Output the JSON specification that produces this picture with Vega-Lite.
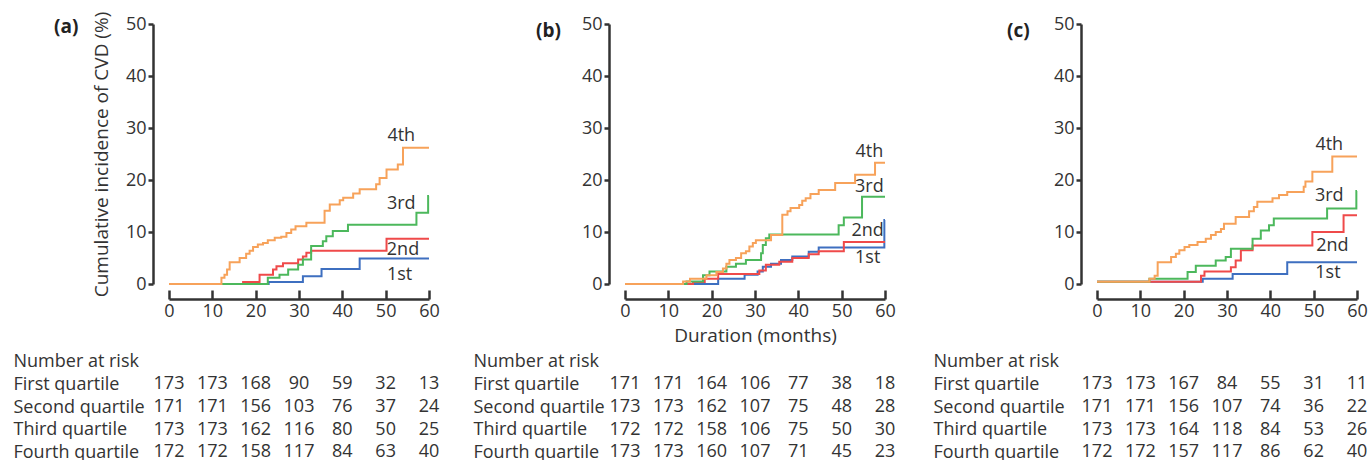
{
  "$schema": "https://vega.github.io/schema/vega-lite/v6.json",
  "padding": {"left": 13, "top": 11, "right": 0, "bottom": 0},
  "config": {
    "view": {"stroke": null},
    "font": "Open Sans",
    "axis": {"grid": false, "domainColor": "#333", "tickColor": "#333", "domainWidth": 2.5, "tickWidth": 2.5, "labelFontSize": 18, "labelColor": "#333", "titleFontSize": 19, "titleFontWeight": "normal", "titleColor": "#333", "labelFont": "Open Sans", "titleFont": "Open Sans"},
    "title": {"fontSize": 19, "fontWeight": "bold", "color": "#222", "anchor": "start", "frame": "group", "offset": 0, "font": "Open Sans"}
  },
  "datasets": {
    "curves": [
      {"p":"a","s":"1st","t":0,"v":0},{"p":"a","s":"1st","t":23,"v":0.4},{"p":"a","s":"1st","t":30.9,"v":1.5},{"p":"a","s":"1st","t":35.2,"v":2.9},{"p":"a","s":"1st","t":44,"v":4.9},{"p":"a","s":"1st","t":60,"v":4.9},
      {"p":"a","s":"2nd","t":0,"v":0},{"p":"a","s":"2nd","t":17.1,"v":0.4},{"p":"a","s":"2nd","t":20.9,"v":1.8},{"p":"a","s":"2nd","t":24,"v":2.8},{"p":"a","s":"2nd","t":24.8,"v":3.4},{"p":"a","s":"2nd","t":26.3,"v":4.0},{"p":"a","s":"2nd","t":29.8,"v":4.7},{"p":"a","s":"2nd","t":30.9,"v":5.3},{"p":"a","s":"2nd","t":31.7,"v":6.0},{"p":"a","s":"2nd","t":32.8,"v":6.4},{"p":"a","s":"2nd","t":50.2,"v":8.7},{"p":"a","s":"2nd","t":60,"v":8.7},
      {"p":"a","s":"3rd","t":0,"v":0},{"p":"a","s":"3rd","t":22.8,"v":1.2},{"p":"a","s":"3rd","t":25.5,"v":1.8},{"p":"a","s":"3rd","t":27.5,"v":2.8},{"p":"a","s":"3rd","t":29.8,"v":3.7},{"p":"a","s":"3rd","t":30.9,"v":4.7},{"p":"a","s":"3rd","t":32.8,"v":7.3},{"p":"a","s":"3rd","t":35.5,"v":8.2},{"p":"a","s":"3rd","t":36.3,"v":9.2},{"p":"a","s":"3rd","t":37.8,"v":10.2},{"p":"a","s":"3rd","t":41.3,"v":11.4},{"p":"a","s":"3rd","t":57.1,"v":13.7},{"p":"a","s":"3rd","t":59.8,"v":16.9},{"p":"a","s":"3rd","t":60,"v":16.9},
      {"p":"a","s":"4th","t":0,"v":0},{"p":"a","s":"4th","t":12.1,"v":1.2},{"p":"a","s":"4th","t":12.8,"v":1.8},{"p":"a","s":"4th","t":13.4,"v":2.8},{"p":"a","s":"4th","t":14.0,"v":4.2},{"p":"a","s":"4th","t":16.3,"v":5.0},{"p":"a","s":"4th","t":17.8,"v":5.8},{"p":"a","s":"4th","t":18.6,"v":6.4},{"p":"a","s":"4th","t":19.4,"v":7.1},{"p":"a","s":"4th","t":20.5,"v":7.6},{"p":"a","s":"4th","t":21.7,"v":7.9},{"p":"a","s":"4th","t":22.8,"v":8.4},{"p":"a","s":"4th","t":24.4,"v":8.9},{"p":"a","s":"4th","t":25.9,"v":9.1},{"p":"a","s":"4th","t":27.1,"v":9.8},{"p":"a","s":"4th","t":28.2,"v":10.5},{"p":"a","s":"4th","t":29.2,"v":11.1},{"p":"a","s":"4th","t":31.7,"v":11.8},{"p":"a","s":"4th","t":35.9,"v":14.1},{"p":"a","s":"4th","t":37.1,"v":15.3},{"p":"a","s":"4th","t":39.4,"v":16.1},{"p":"a","s":"4th","t":40.2,"v":16.6},{"p":"a","s":"4th","t":42.5,"v":17.4},{"p":"a","s":"4th","t":44.0,"v":18.2},{"p":"a","s":"4th","t":47.8,"v":19.2},{"p":"a","s":"4th","t":48.6,"v":20.4},{"p":"a","s":"4th","t":50.2,"v":22.0},{"p":"a","s":"4th","t":52.8,"v":23.0},{"p":"a","s":"4th","t":54.0,"v":26.2},{"p":"a","s":"4th","t":60,"v":26.2},
      {"p":"b","s":"1st","t":0,"v":0},{"p":"b","s":"1st","t":21.5,"v":1.0},{"p":"b","s":"1st","t":27.6,"v":1.8},{"p":"b","s":"1st","t":30.6,"v":2.4},{"p":"b","s":"1st","t":31.8,"v":3.3},{"p":"b","s":"1st","t":33.7,"v":3.9},{"p":"b","s":"1st","t":36.0,"v":4.6},{"p":"b","s":"1st","t":38.6,"v":5.3},{"p":"b","s":"1st","t":42.4,"v":6.2},{"p":"b","s":"1st","t":44.7,"v":7.0},{"p":"b","s":"1st","t":59.85,"v":12.3},{"p":"b","s":"1st","t":60,"v":12.3},
      {"p":"b","s":"2nd","t":0,"v":0},{"p":"b","s":"2nd","t":15.7,"v":0.4},{"p":"b","s":"2nd","t":18.4,"v":1.0},{"p":"b","s":"2nd","t":21.5,"v":1.9},{"p":"b","s":"2nd","t":31.0,"v":2.6},{"p":"b","s":"2nd","t":32.5,"v":3.7},{"p":"b","s":"2nd","t":35.6,"v":4.3},{"p":"b","s":"2nd","t":38.6,"v":5.0},{"p":"b","s":"2nd","t":42.4,"v":5.7},{"p":"b","s":"2nd","t":44.7,"v":6.3},{"p":"b","s":"2nd","t":50.5,"v":8.1},{"p":"b","s":"2nd","t":60,"v":8.1},
      {"p":"b","s":"3rd","t":0,"v":0},{"p":"b","s":"3rd","t":14.2,"v":0.5},{"p":"b","s":"3rd","t":18.0,"v":1.7},{"p":"b","s":"3rd","t":19.5,"v":2.4},{"p":"b","s":"3rd","t":23.4,"v":3.3},{"p":"b","s":"3rd","t":25.6,"v":3.9},{"p":"b","s":"3rd","t":27.9,"v":4.6},{"p":"b","s":"3rd","t":31.4,"v":5.9},{"p":"b","s":"3rd","t":31.8,"v":7.5},{"p":"b","s":"3rd","t":32.5,"v":8.8},{"p":"b","s":"3rd","t":33.3,"v":9.5},{"p":"b","s":"3rd","t":49.3,"v":11.3},{"p":"b","s":"3rd","t":50.5,"v":12.8},{"p":"b","s":"3rd","t":54.7,"v":16.8},{"p":"b","s":"3rd","t":60,"v":16.8},
      {"p":"b","s":"4th","t":0,"v":0},{"p":"b","s":"4th","t":13.4,"v":0.5},{"p":"b","s":"4th","t":15.0,"v":1.0},{"p":"b","s":"4th","t":18.8,"v":1.7},{"p":"b","s":"4th","t":21.1,"v":2.3},{"p":"b","s":"4th","t":22.6,"v":3.0},{"p":"b","s":"4th","t":23.4,"v":3.9},{"p":"b","s":"4th","t":24.1,"v":4.6},{"p":"b","s":"4th","t":25.6,"v":5.0},{"p":"b","s":"4th","t":26.8,"v":5.9},{"p":"b","s":"4th","t":27.9,"v":6.3},{"p":"b","s":"4th","t":28.7,"v":7.2},{"p":"b","s":"4th","t":29.5,"v":7.9},{"p":"b","s":"4th","t":30.2,"v":8.4},{"p":"b","s":"4th","t":33.7,"v":9.4},{"p":"b","s":"4th","t":36.3,"v":13.3},{"p":"b","s":"4th","t":37.5,"v":14.0},{"p":"b","s":"4th","t":38.2,"v":14.6},{"p":"b","s":"4th","t":40.2,"v":15.2},{"p":"b","s":"4th","t":40.9,"v":16.0},{"p":"b","s":"4th","t":41.7,"v":16.5},{"p":"b","s":"4th","t":42.8,"v":17.3},{"p":"b","s":"4th","t":44.7,"v":18.1},{"p":"b","s":"4th","t":48.5,"v":19.4},{"p":"b","s":"4th","t":53.1,"v":21.0},{"p":"b","s":"4th","t":57.7,"v":23.3},{"p":"b","s":"4th","t":60,"v":23.3},
      {"p":"c","s":"1st","t":0,"v":0.45},{"p":"c","s":"1st","t":24.4,"v":1.0},{"p":"c","s":"1st","t":31.3,"v":1.9},{"p":"c","s":"1st","t":43.9,"v":4.2},{"p":"c","s":"1st","t":60,"v":4.2},
      {"p":"c","s":"2nd","t":0,"v":0.45},{"p":"c","s":"2nd","t":24.0,"v":1.6},{"p":"c","s":"2nd","t":24.8,"v":2.4},{"p":"c","s":"2nd","t":30.9,"v":3.2},{"p":"c","s":"2nd","t":32.0,"v":4.5},{"p":"c","s":"2nd","t":33.2,"v":6.5},{"p":"c","s":"2nd","t":35.9,"v":7.4},{"p":"c","s":"2nd","t":49.7,"v":10.0},{"p":"c","s":"2nd","t":56.9,"v":13.2},{"p":"c","s":"2nd","t":60,"v":13.2},
      {"p":"c","s":"3rd","t":0,"v":0.45},{"p":"c","s":"3rd","t":12.1,"v":1.0},{"p":"c","s":"3rd","t":20.9,"v":2.3},{"p":"c","s":"3rd","t":22.8,"v":3.5},{"p":"c","s":"3rd","t":27.4,"v":4.5},{"p":"c","s":"3rd","t":29.7,"v":5.2},{"p":"c","s":"3rd","t":30.9,"v":6.8},{"p":"c","s":"3rd","t":35.9,"v":8.7},{"p":"c","s":"3rd","t":37.8,"v":10.3},{"p":"c","s":"3rd","t":39.7,"v":11.3},{"p":"c","s":"3rd","t":40.8,"v":12.6},{"p":"c","s":"3rd","t":53.1,"v":14.5},{"p":"c","s":"3rd","t":59.85,"v":17.9},{"p":"c","s":"3rd","t":60,"v":17.9},
      {"p":"c","s":"4th","t":0,"v":0.45},{"p":"c","s":"4th","t":12.1,"v":1.0},{"p":"c","s":"4th","t":13.3,"v":1.6},{"p":"c","s":"4th","t":14.0,"v":4.2},{"p":"c","s":"4th","t":17.1,"v":5.2},{"p":"c","s":"4th","t":18.2,"v":5.8},{"p":"c","s":"4th","t":19.0,"v":6.5},{"p":"c","s":"4th","t":20.2,"v":7.1},{"p":"c","s":"4th","t":21.3,"v":7.5},{"p":"c","s":"4th","t":23.2,"v":8.1},{"p":"c","s":"4th","t":25.1,"v":8.7},{"p":"c","s":"4th","t":26.3,"v":9.4},{"p":"c","s":"4th","t":27.4,"v":10.0},{"p":"c","s":"4th","t":28.6,"v":10.6},{"p":"c","s":"4th","t":29.3,"v":11.6},{"p":"c","s":"4th","t":32.0,"v":12.9},{"p":"c","s":"4th","t":35.1,"v":14.0},{"p":"c","s":"4th","t":36.2,"v":14.8},{"p":"c","s":"4th","t":37.0,"v":15.8},{"p":"c","s":"4th","t":40.5,"v":16.5},{"p":"c","s":"4th","t":42.0,"v":17.1},{"p":"c","s":"4th","t":43.9,"v":17.7},{"p":"c","s":"4th","t":47.7,"v":18.7},{"p":"c","s":"4th","t":48.1,"v":19.7},{"p":"c","s":"4th","t":49.7,"v":21.6},{"p":"c","s":"4th","t":54.3,"v":24.5},{"p":"c","s":"4th","t":60,"v":24.5}
    ],
    "labels": [
      {"p":"a","label":"4th","t":53.6,"v":28.5},{"p":"a","label":"3rd","t":53.6,"v":15.3},{"p":"a","label":"2nd","t":54.0,"v":6.6},{"p":"a","label":"1st","t":53.2,"v":1.8},
      {"p":"b","label":"4th","t":56.4,"v":25.4},{"p":"b","label":"3rd","t":56.4,"v":18.6},{"p":"b","label":"2nd","t":56.0,"v":10.1},{"p":"b","label":"1st","t":56.0,"v":5.0},
      {"p":"c","label":"4th","t":53.6,"v":26.8},{"p":"c","label":"3rd","t":53.6,"v":17.0},{"p":"c","label":"2nd","t":54.3,"v":7.3},{"p":"c","label":"1st","t":53.3,"v":2.1}
    ],
    "risk": [
      {"p":"a","r":"First quartile","t":0,"n":173},{"p":"a","r":"First quartile","t":10,"n":173},{"p":"a","r":"First quartile","t":20,"n":168},{"p":"a","r":"First quartile","t":30,"n":90},{"p":"a","r":"First quartile","t":40,"n":59},{"p":"a","r":"First quartile","t":50,"n":32},{"p":"a","r":"First quartile","t":60,"n":13},
      {"p":"a","r":"Second quartile","t":0,"n":171},{"p":"a","r":"Second quartile","t":10,"n":171},{"p":"a","r":"Second quartile","t":20,"n":156},{"p":"a","r":"Second quartile","t":30,"n":103},{"p":"a","r":"Second quartile","t":40,"n":76},{"p":"a","r":"Second quartile","t":50,"n":37},{"p":"a","r":"Second quartile","t":60,"n":24},
      {"p":"a","r":"Third quartile","t":0,"n":173},{"p":"a","r":"Third quartile","t":10,"n":173},{"p":"a","r":"Third quartile","t":20,"n":162},{"p":"a","r":"Third quartile","t":30,"n":116},{"p":"a","r":"Third quartile","t":40,"n":80},{"p":"a","r":"Third quartile","t":50,"n":50},{"p":"a","r":"Third quartile","t":60,"n":25},
      {"p":"a","r":"Fourth quartile","t":0,"n":172},{"p":"a","r":"Fourth quartile","t":10,"n":172},{"p":"a","r":"Fourth quartile","t":20,"n":158},{"p":"a","r":"Fourth quartile","t":30,"n":117},{"p":"a","r":"Fourth quartile","t":40,"n":84},{"p":"a","r":"Fourth quartile","t":50,"n":63},{"p":"a","r":"Fourth quartile","t":60,"n":40},
      {"p":"b","r":"First quartile","t":0,"n":171},{"p":"b","r":"First quartile","t":10,"n":171},{"p":"b","r":"First quartile","t":20,"n":164},{"p":"b","r":"First quartile","t":30,"n":106},{"p":"b","r":"First quartile","t":40,"n":77},{"p":"b","r":"First quartile","t":50,"n":38},{"p":"b","r":"First quartile","t":60,"n":18},
      {"p":"b","r":"Second quartile","t":0,"n":173},{"p":"b","r":"Second quartile","t":10,"n":173},{"p":"b","r":"Second quartile","t":20,"n":162},{"p":"b","r":"Second quartile","t":30,"n":107},{"p":"b","r":"Second quartile","t":40,"n":75},{"p":"b","r":"Second quartile","t":50,"n":48},{"p":"b","r":"Second quartile","t":60,"n":28},
      {"p":"b","r":"Third quartile","t":0,"n":172},{"p":"b","r":"Third quartile","t":10,"n":172},{"p":"b","r":"Third quartile","t":20,"n":158},{"p":"b","r":"Third quartile","t":30,"n":106},{"p":"b","r":"Third quartile","t":40,"n":75},{"p":"b","r":"Third quartile","t":50,"n":50},{"p":"b","r":"Third quartile","t":60,"n":30},
      {"p":"b","r":"Fourth quartile","t":0,"n":173},{"p":"b","r":"Fourth quartile","t":10,"n":173},{"p":"b","r":"Fourth quartile","t":20,"n":160},{"p":"b","r":"Fourth quartile","t":30,"n":107},{"p":"b","r":"Fourth quartile","t":40,"n":71},{"p":"b","r":"Fourth quartile","t":50,"n":45},{"p":"b","r":"Fourth quartile","t":60,"n":23},
      {"p":"c","r":"First quartile","t":0,"n":173},{"p":"c","r":"First quartile","t":10,"n":173},{"p":"c","r":"First quartile","t":20,"n":167},{"p":"c","r":"First quartile","t":30,"n":84},{"p":"c","r":"First quartile","t":40,"n":55},{"p":"c","r":"First quartile","t":50,"n":31},{"p":"c","r":"First quartile","t":60,"n":11},
      {"p":"c","r":"Second quartile","t":0,"n":171},{"p":"c","r":"Second quartile","t":10,"n":171},{"p":"c","r":"Second quartile","t":20,"n":156},{"p":"c","r":"Second quartile","t":30,"n":107},{"p":"c","r":"Second quartile","t":40,"n":74},{"p":"c","r":"Second quartile","t":50,"n":36},{"p":"c","r":"Second quartile","t":60,"n":22},
      {"p":"c","r":"Third quartile","t":0,"n":173},{"p":"c","r":"Third quartile","t":10,"n":173},{"p":"c","r":"Third quartile","t":20,"n":164},{"p":"c","r":"Third quartile","t":30,"n":118},{"p":"c","r":"Third quartile","t":40,"n":84},{"p":"c","r":"Third quartile","t":50,"n":53},{"p":"c","r":"Third quartile","t":60,"n":26},
      {"p":"c","r":"Fourth quartile","t":0,"n":172},{"p":"c","r":"Fourth quartile","t":10,"n":172},{"p":"c","r":"Fourth quartile","t":20,"n":157},{"p":"c","r":"Fourth quartile","t":30,"n":117},{"p":"c","r":"Fourth quartile","t":40,"n":86},{"p":"c","r":"Fourth quartile","t":50,"n":62},{"p":"c","r":"Fourth quartile","t":60,"n":40}
    ]
  },
  "columns": 3,
  "bounds": "flush",
  "align": "each",
  "spacing": {"column": 196, "row": 71},
  "concat": [
    {
      "width": 260, "height": 260,
      "title": {"text": "(a)", "dx": -115, "dy": 30},
      "layer": [
        {"data": {"name": "curves"}, "transform": [{"filter": "datum.p == 'a'"}],
         "mark": {"type": "line", "interpolate": "step-after", "strokeWidth": 2},
         "encoding": {
           "x": {"field": "t", "type": "quantitative", "scale": {"domain": [0, 60], "nice": false}, "axis": {"values": [0,10,20,30,40,50,60], "offset": 15, "tickSize": -9, "labelPadding": 12, "title": null, "labelFlush": false}},
           "y": {"field": "v", "type": "quantitative", "scale": {"domain": [0, 50], "nice": false}, "axis": {"values": [0,10,20,30,40,50], "offset": 16, "tickSize": 5, "labelPadding": 2, "title": "Cumulative incidence of CVD (%)", "titlePadding": 14}},
           "color": {"field": "s", "type": "nominal", "scale": {"domain": ["1st","2nd","3rd","4th"], "range": ["#3E6FC0","#EF4A4A","#4CB85C","#F7A25A"]}, "legend": null}
         }},
        {"data": {"name": "labels"}, "transform": [{"filter": "datum.p == 'a'"}],
         "mark": {"type": "text", "fontSize": 18, "color": "#333", "align": "center", "baseline": "middle"},
         "encoding": {"x": {"field": "t", "type": "quantitative"}, "y": {"field": "v", "type": "quantitative"}, "text": {"field": "label"}}}
      ]
    },
    {
      "width": 260, "height": 260,
      "title": {"text": "(b)", "dx": -89, "dy": 30},
      "layer": [
        {"data": {"name": "curves"}, "transform": [{"filter": "datum.p == 'b'"}],
         "mark": {"type": "line", "interpolate": "step-after", "strokeWidth": 2},
         "encoding": {
           "x": {"field": "t", "type": "quantitative", "scale": {"domain": [0, 60], "nice": false}, "axis": {"values": [0,10,20,30,40,50,60], "offset": 15, "tickSize": -9, "labelPadding": 12, "title": "Duration (months)", "titlePadding": 6, "labelFlush": false}},
           "y": {"field": "v", "type": "quantitative", "scale": {"domain": [0, 50], "nice": false}, "axis": {"values": [0,10,20,30,40,50], "offset": 16, "tickSize": 5, "labelPadding": 2, "title": null}},
           "color": {"field": "s", "type": "nominal", "scale": {"domain": ["1st","2nd","3rd","4th"], "range": ["#3E6FC0","#EF4A4A","#4CB85C","#F7A25A"]}, "legend": null}
         }},
        {"data": {"name": "labels"}, "transform": [{"filter": "datum.p == 'b'"}],
         "mark": {"type": "text", "fontSize": 18, "color": "#333", "align": "center", "baseline": "middle"},
         "encoding": {"x": {"field": "t", "type": "quantitative"}, "y": {"field": "v", "type": "quantitative"}, "text": {"field": "label"}}}
      ]
    },
    {
      "width": 260, "height": 260,
      "title": {"text": "(c)", "dx": -90, "dy": 30},
      "layer": [
        {"data": {"name": "curves"}, "transform": [{"filter": "datum.p == 'c'"}],
         "mark": {"type": "line", "interpolate": "step-after", "strokeWidth": 2},
         "encoding": {
           "x": {"field": "t", "type": "quantitative", "scale": {"domain": [0, 60], "nice": false}, "axis": {"values": [0,10,20,30,40,50,60], "offset": 15, "tickSize": -9, "labelPadding": 12, "title": null, "labelFlush": false}},
           "y": {"field": "v", "type": "quantitative", "scale": {"domain": [0, 50], "nice": false}, "axis": {"values": [0,10,20,30,40,50], "offset": 16, "tickSize": 5, "labelPadding": 2, "title": null}},
           "color": {"field": "s", "type": "nominal", "scale": {"domain": ["1st","2nd","3rd","4th"], "range": ["#3E6FC0","#EF4A4A","#4CB85C","#F7A25A"]}, "legend": null}
         }},
        {"data": {"name": "labels"}, "transform": [{"filter": "datum.p == 'c'"}],
         "mark": {"type": "text", "fontSize": 18, "color": "#333", "align": "center", "baseline": "middle"},
         "encoding": {"x": {"field": "t", "type": "quantitative"}, "y": {"field": "v", "type": "quantitative"}, "text": {"field": "label"}}}
      ]
    },
    {
      "width": 260, "height": 104,
      "data": {"name": "risk"}, "transform": [{"filter": "datum.p == 'a'"}],
      "mark": {"type": "text", "fontSize": 18, "color": "#333", "align": "center", "baseline": "middle"},
      "encoding": {
        "x": {"field": "t", "type": "quantitative", "scale": {"domain": [0, 60], "nice": false}, "axis": null},
        "y": {"field": "r", "type": "nominal", "scale": {"domain": ["Number at risk","First quartile","Second quartile","Third quartile","Fourth quartile"], "padding": 0.3}, "axis": {"domain": false, "ticks": false, "labelAlign": "left", "labelPadding": 156, "labelFontSize": 18, "labelColor": "#333", "labelLimit": 300, "title": null}},
        "text": {"field": "n", "type": "nominal"}
      }
    },
    {
      "width": 276, "height": 104,
      "data": {"name": "risk"}, "transform": [{"filter": "datum.p == 'b'"}],
      "mark": {"type": "text", "fontSize": 18, "color": "#333", "align": "center", "baseline": "middle"},
      "encoding": {
        "x": {"field": "t", "type": "quantitative", "scale": {"domain": [0, 63.69], "nice": false}, "axis": null},
        "y": {"field": "r", "type": "nominal", "scale": {"domain": ["Number at risk","First quartile","Second quartile","Third quartile","Fourth quartile"], "padding": 0.3}, "axis": {"domain": false, "ticks": false, "labelAlign": "left", "labelPadding": 152, "labelFontSize": 18, "labelColor": "#333", "labelLimit": 300, "title": null}},
        "text": {"field": "n", "type": "nominal"}
      }
    },
    {
      "width": 260, "height": 104,
      "data": {"name": "risk"}, "transform": [{"filter": "datum.p == 'c'"}],
      "mark": {"type": "text", "fontSize": 18, "color": "#333", "align": "center", "baseline": "middle"},
      "encoding": {
        "x": {"field": "t", "type": "quantitative", "scale": {"domain": [0, 60], "nice": false}, "axis": null},
        "y": {"field": "r", "type": "nominal", "scale": {"domain": ["Number at risk","First quartile","Second quartile","Third quartile","Fourth quartile"], "padding": 0.3}, "axis": {"domain": false, "ticks": false, "labelAlign": "left", "labelPadding": 164, "labelFontSize": 18, "labelColor": "#333", "labelLimit": 300, "title": null}},
        "text": {"field": "n", "type": "nominal"}
      }
    }
  ]
}
